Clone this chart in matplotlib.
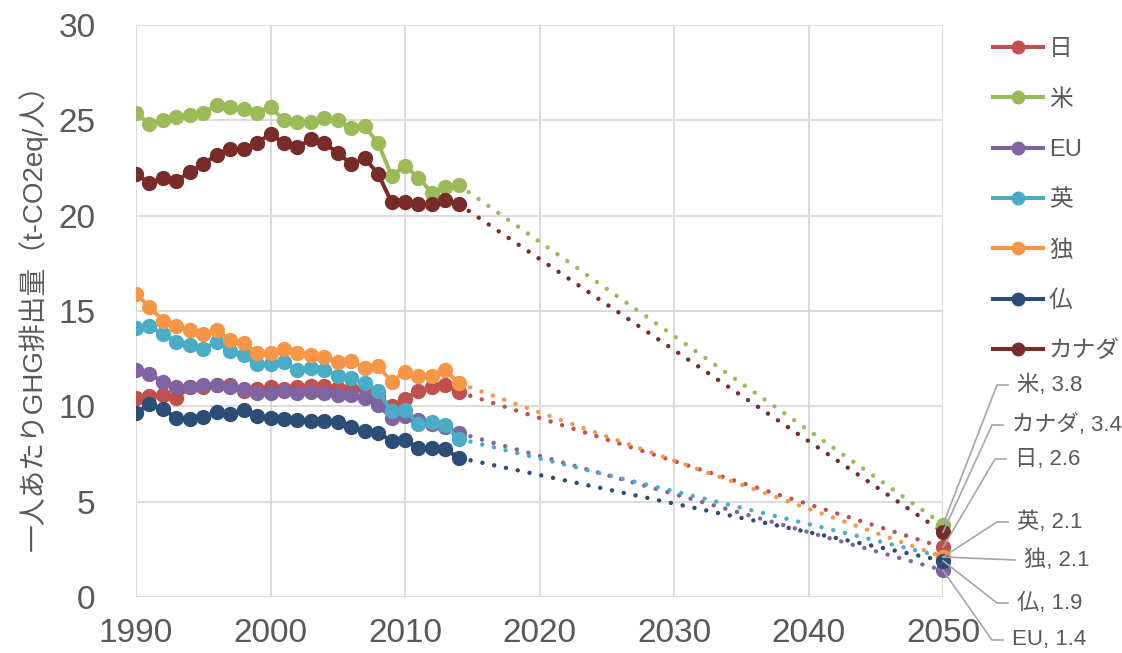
import matplotlib
matplotlib.use("Agg")
import numpy as np
import matplotlib.pyplot as plt
from matplotlib.lines import Line2D

plt.rcParams['font.family'] = ['Liberation Sans', 'Noto Sans CJK JP']

years = list(range(1990, 2015))

japan = [10.45, 10.55, 10.6, 10.45, 11.0, 11.0, 11.1, 11.1, 10.8, 10.9, 11.0, 10.9, 11.0,
         11.05, 11.05, 10.95, 10.9, 10.95, 10.5, 10.0, 10.4, 10.8, 11.0, 11.1, 10.75]
usa = [25.4, 24.8, 25.0, 25.2, 25.3, 25.4, 25.8, 25.7, 25.6, 25.4, 25.7, 25.0, 24.9,
       24.9, 25.1, 25.0, 24.6, 24.7, 23.8, 22.1, 22.6, 22.0, 21.2, 21.5, 21.6]
eu = [11.9, 11.7, 11.3, 11.0, 11.0, 11.1, 11.1, 11.0, 10.9, 10.7, 10.7, 10.8, 10.7,
      10.75, 10.7, 10.6, 10.6, 10.45, 10.05, 9.4, 9.5, 9.3, 9.05, 8.9, 8.6]
uk = [14.1, 14.2, 13.8, 13.4, 13.2, 13.0, 13.4, 12.9, 12.7, 12.2, 12.2, 12.3, 11.9,
      12.0, 11.9, 11.6, 11.5, 11.2, 10.8, 9.75, 9.8, 9.05, 9.2, 9.0, 8.3]
germany = [15.9, 15.2, 14.5, 14.2, 14.0, 13.8, 14.0, 13.5, 13.3, 12.8, 12.8, 13.0, 12.8,
           12.7, 12.6, 12.3, 12.4, 12.0, 12.1, 11.3, 11.8, 11.6, 11.6, 11.9, 11.2]
france = [9.65, 10.1, 9.85, 9.4, 9.35, 9.45, 9.7, 9.6, 9.8, 9.5, 9.4, 9.35, 9.3,
          9.25, 9.25, 9.2, 8.9, 8.7, 8.6, 8.2, 8.25, 7.8, 7.8, 7.75, 7.3]
canada = [22.2, 21.7, 22.0, 21.8, 22.3, 22.7, 23.2, 23.5, 23.5, 23.8, 24.3, 23.8, 23.6,
          24.0, 23.8, 23.3, 22.7, 23.0, 22.2, 20.7, 20.7, 20.6, 20.6, 20.8, 20.6]

target_year = 2050
names = ['日', '米', 'EU', '英', '独', '仏', 'カナダ']
series = [japan, usa, eu, uk, germany, france, canada]
targets = [2.6, 3.8, 1.4, 2.1, 2.1, 1.9, 3.4]
colors = ['#C0504D', '#9BBB59', '#8064A2', '#4BACC6', '#F79646', '#2C4D75', '#772C2A']

# label positions at the right (left edge x, centre y) in image pixels
label_pos = {'米': (1017, 385), 'カナダ': (1012, 425), '日': (1015, 459),
             '英': (1017, 522), '独': (1024, 560), '仏': (1017, 603), 'EU': (1012, 640)}

W, H = 1122, 653
fig = plt.figure(figsize=(W / 100, H / 100), dpi=100)
ax = fig.add_axes([136 / W, (H - 597) / H, (943 - 136) / W, (597 - 25) / H])

for name, vals, col in zip(names, series, colors):
    ax.plot(years, vals, color=col, lw=2.9, marker='o', ms=10, label=name,
            solid_joinstyle='round', zorder=3)

for name, vals, tgt, col in zip(names, series, targets, colors):
    ax.plot([years[-1], target_year], [vals[-1], tgt], color=col, lw=3.2,
            linestyle=(0, (0.01, 2.7)), dash_capstyle='round', zorder=2)
for name, tgt, col in zip(names, targets, colors):
    ax.plot([target_year], [tgt], marker='o', ms=10, color=col, zorder=4, clip_on=False)

ax.set_xlim(1990, 2050)
ax.set_ylim(0, 30)
ax.set_xticks(range(1990, 2051, 10))
ax.set_yticks(range(0, 31, 5))
ax.grid(True, color='#D9D9D9', lw=1.3)
ax.set_axisbelow(True)
for s in ax.spines.values():
    s.set_visible(False)
ax.tick_params(length=0, labelsize=24, labelcolor='#595959')
ax.tick_params(axis='x', pad=15)
ax.tick_params(axis='y', pad=29)
ax.set_ylabel('一人あたりGHG排出量（t-CO2eq/人）', fontsize=20, color='#595959', labelpad=8)

# leader lines and labels
fig.canvas.draw()
for name, tgt in zip(names, targets):
    px, py = ax.transData.transform((target_year, tgt))
    tx, ty = label_pos[name]
    ty = H - ty
    if name == '独':
        xs, ys = [px, tx - 9], [py, ty]
    else:
        xs, ys = [px, tx - 20, tx - 9], [py, ty, ty]
    fig.add_artist(Line2D(xs, ys, transform=None, color='#A6A6A6', lw=1.2, zorder=1))
    fig.text(tx, ty, f'{name}, {tgt}', transform=None, fontsize=16, color='#595959',
             va='center', ha='left')

fig.legend(loc='upper left', bbox_to_anchor=(972 / W, 1 - 17 / H), frameon=False,
           fontsize=17, labelcolor='#595959', handlelength=2.1, handletextpad=0.25,
           labelspacing=1.2, markerscale=0.9)

fig.savefig('out.png', dpi=100)
